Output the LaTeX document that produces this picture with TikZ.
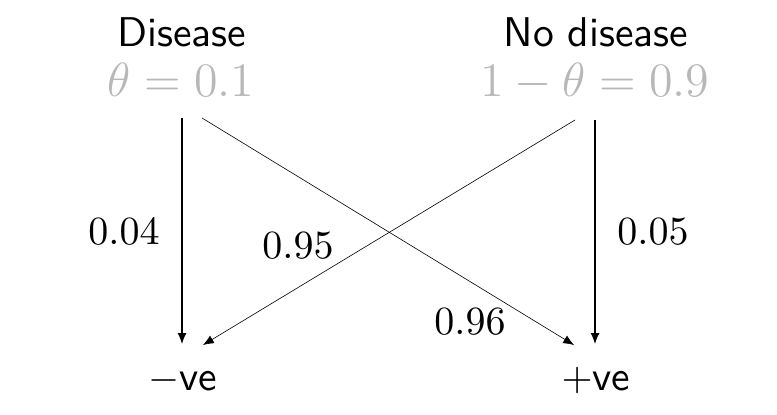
\documentclass[tikz,border=0pt]{standalone}
\usetikzlibrary{arrows.meta}
\definecolor{probgray}{gray}{0.72}
\begin{document}
\begin{tikzpicture}[x=0.25pt,y=-0.25pt,
  lbl/.style={font=\fontsize{10.4}{12.5}\selectfont\sffamily, inner sep=0pt, anchor=base},
  prob/.style={font=\fontsize{12.2}{14.5}\selectfont, inner sep=0pt, text=probgray, anchor=base},
  num/.style={font=\fontsize{10.4}{12.5}\selectfont, inner sep=0pt},
  main/.style={-{Latex[length=2.7pt,width=2.2pt]}, line width=0.3pt},
  cross/.style={-{Latex[length=2.7pt,width=2.2pt]}, line width=0.15pt}]
\useasboundingbox (0,0) rectangle (777,415);
\node[lbl] (D) at (182,47) {Disease};
\node[prob] (Dt) at (181,97) {$\theta = 0.1$};
\node[lbl] (N) at (596,47) {No disease};
\node[prob] (Nt) at (595,97) {$1-\theta = 0.9$};
\node[lbl] (M) at (183,390) {$-$ve};
\node[lbl] (P) at (596,390) {$+$ve};
\coordinate (d1) at (182,118);
\coordinate (d2) at (202,118);
\coordinate (n1) at (595,120);
\coordinate (n2) at (575,120);
\coordinate (m1) at (182,344);
\coordinate (m2) at (203,345);
\coordinate (p1) at (595,344);
\coordinate (p2) at (574,345);
\draw[main] (d1) -- (m1);
\draw[main] (n1) -- (p1);
\draw[cross] (d2) -- (p2);
\draw[cross] (n2) -- (m2);
\node[num] (l1) at (124,232) {$0.04$};
\node[num] (l2) at (298,246) {$0.95$};
\node[num] (l3) at (653,232) {$0.05$};
\node[num] (l4) at (470,322) {$0.96$};
\end{tikzpicture}
\end{document}
